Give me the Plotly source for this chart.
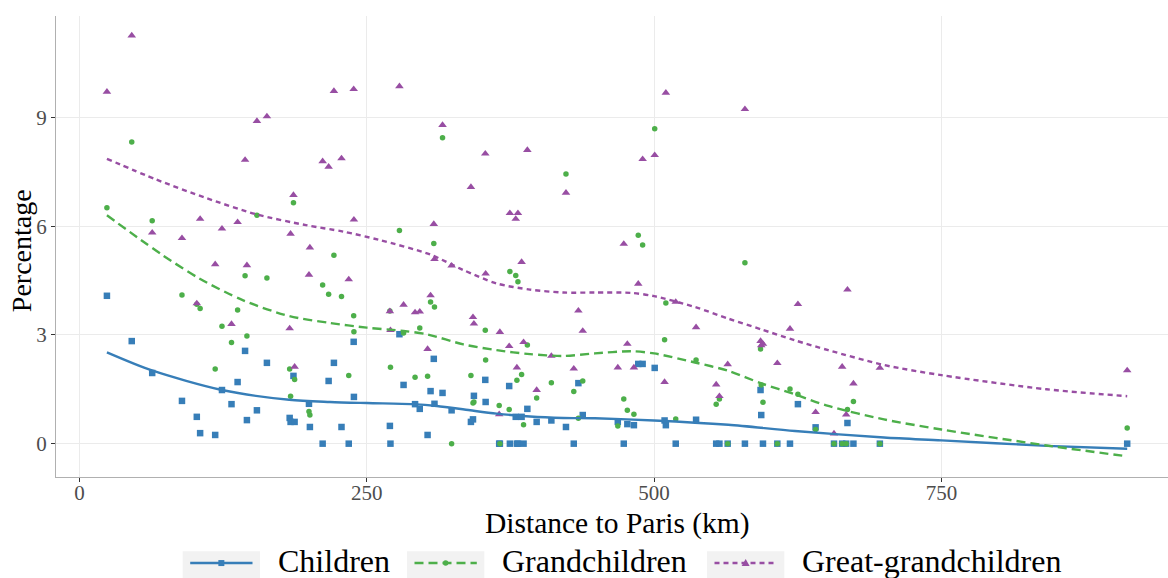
import plotly.graph_objects as go

# ---- data ----
distance = [23.9, 45.5, 63.3, 89.2, 102.1, 105.0, 118.1, 124.0, 132.3, 137.6,
            144.1, 145.7, 154.4, 163.1, 182.9, 183.7, 186.2, 187.2, 199.7, 200.5,
            211.6, 216.8, 221.4, 228.0, 234.3, 238.6, 238.8, 270.1, 270.6, 278.4,
            282.0, 292.0, 296.1, 302.9, 305.5, 308.3, 308.9, 315.9, 323.8, 340.6,
            342.4, 343.2, 353.1, 353.4, 365.2, 365.8, 373.9, 374.5, 379.6, 380.6,
            381.5, 384.7, 386.4, 389.7, 397.8, 410.6, 423.3, 430.1, 434.1, 437.9,
            468.4, 473.6, 476.7, 482.4, 486.2, 490.0, 500.5, 509.1, 510.2, 518.8,
            536.5, 554.0, 556.8, 564.0, 579.0, 592.6, 593.2, 594.7, 607.2, 618.2,
            625.1, 640.5, 656.5, 663.6, 667.1, 668.2, 673.4, 696.4, 911.6]
children = [4.08, 2.83, 1.95, 1.18, 0.74, 0.29, 0.24, 1.48, 1.09, 1.70,
            2.56, 0.65, 0.92, 2.23, 0.71, 0.60, 1.87, 0.60, 1.10, 0.46,
            0.00, 1.73, 2.23, 0.46, 0.00, 2.81, 1.29, 0.49, 0.00, 3.02,
            1.62, 1.09, 0.96, 0.24, 1.45, 2.34, 1.10, 1.40, 0.92, 0.60,
            0.67, 1.32, 1.76, 1.15, 0.00, 0.00, 1.59, 0.00, 0.74, 0.00,
            0.00, 0.74, 0.00, 0.96, 0.60, 0.64, 0.46, 0.00, 1.67, 0.79,
            0.60, 0.00, 0.54, 0.51, 2.20, 2.20, 2.09, 0.64, 0.51, 0.00,
            0.66, 0.00, 0.00, 0.00, 0.00, 1.48, 0.79, 0.00, 0.00, 0.00,
            1.09, 0.45, 0.00, 0.00, 0.00, 0.57, 0.00, 0.00, 0.00]
grandchildren = [6.51, 8.32, 6.15, 4.10, 3.85, 3.73, 2.06, 3.24, 2.79, 3.69,
                 4.63, 2.97, 6.30, 4.57, 2.06, 1.31, 6.65, 1.77, 0.89, 0.79,
                 4.38, 4.12, 5.20, 4.06, 1.88, 3.53, 3.09, 3.66, 2.11, 5.88,
                 3.05, 1.83, 3.19, 1.86, 3.91, 5.52, 3.77, 8.44, 0.00, 1.88,
                 1.12, 1.15, 3.13, 2.31, 1.05, 0.00, 0.94, 4.75, 4.64, 1.75,
                 4.47, 1.91, 0.52, 2.72, 1.26, 1.68, 7.44, 1.44, 0.70, 1.73,
                 0.49, 1.23, 0.92, 0.81, 5.75, 5.48, 8.69, 2.87, 3.88, 0.68,
                 2.31, 1.09, 1.23, 0.00, 4.99, 2.61, 1.62, 1.14, 0.00, 1.51,
                 1.36, 0.39, 0.00, 0.00, 0.00, 0.94, 1.16, 0.00, 0.43]
great_grandchildren = [9.71, 11.26, 5.82, 5.67, 3.87, 6.20, 4.95, 5.93, 3.30, 6.11,
                       7.83, 4.92, 8.90, 9.03, 3.18, 5.79, 6.86, 2.12, 4.66, 5.41,
                       7.79, 7.64, 9.73, 7.87, 4.53, 9.78, 6.18, 3.65, 3.13, 9.86,
                       3.83, 3.62, 3.64, 2.61, 4.09, 6.06, 5.09, 8.79, 4.91, 7.08,
                       3.49, 3.31, 8.00, 4.69, 0.81, 3.08, 2.69, 6.36, 6.20, 2.10,
                       6.36, 5.01, 2.80, 8.10, 1.48, 2.42, 6.92, 2.07, 3.67, 3.11,
                       2.10, 5.51, 2.75, 2.10, 4.41, 7.85, 7.96, 1.70, 9.68, 3.91,
                       3.21, 1.63, 1.31, 2.19, 9.23, 2.83, 2.71, 2.75, 2.22, 3.17,
                       3.85, 0.87, 0.28, 2.12, 0.80, 4.25, 1.66, 2.09, 2.02]

# smoothed (loess) curves
smooth_children_x = [23.9, 63.1, 124, 182.5, 218, 250, 290, 311, 340, 363, 392, 421,
                     448.5, 500, 564.5, 622.5, 700, 750, 841.5, 911.6]
smooth_children_y = [2.52, 2.02, 1.48, 1.21, 1.15, 1.12, 1.09, 1.04, 0.92, 0.83, 0.75, 0.71,
                     0.70, 0.64, 0.52, 0.35, 0.17, 0.09, -0.06, -0.14]
smooth_grand_x = [23.9, 53.5, 72.4, 104.2, 142, 182.5, 218, 250, 282, 302, 334, 363, 392,
                  421, 448.5, 480, 500, 535.5, 564.5, 593.5, 622.5, 651.5, 700, 750, 841.5, 911.6]
smooth_grand_y = [6.30, 5.62, 5.20, 4.56, 3.96, 3.52, 3.33, 3.20, 3.11, 3.02, 2.74, 2.58, 2.47,
                  2.42, 2.49, 2.55, 2.49, 2.24, 2.01, 1.66, 1.36, 1.04, 0.67, 0.39, -0.05, -0.35]
smooth_great_x = [23.9, 66.6, 110, 153.6, 197, 229.8, 261, 305, 334, 363, 392, 421, 448.5,
                  480, 500, 535.5, 564.5, 593.5, 622.5, 651.5, 700, 750, 841.5, 911.6]
smooth_great_y = [7.86, 7.29, 6.78, 6.33, 6.03, 5.85, 5.62, 5.22, 4.79, 4.42, 4.25, 4.17, 4.17,
                  4.16, 4.07, 3.77, 3.45, 3.15, 2.85, 2.58, 2.17, 1.89, 1.50, 1.31]

x_ticks = [0, 250, 500, 750]
y_ticks = [0, 3, 6, 9]

series_names = ["Children", "Grandchildren", "Great-grandchildren"]
series_values = [children, grandchildren, great_grandchildren]
smooth_x = [smooth_children_x, smooth_grand_x, smooth_great_x]
smooth_y = [smooth_children_y, smooth_grand_y, smooth_great_y]
colors = ["#377EB8", "#4DAF4A", "#984EA3"]
symbols = ["square", "circle", "triangle-up"]
sizes = [6.5, 5.5, 7.5]
dashes = ["solid", "9px,5px", "5px,4px"]

FONT = "Liberation Serif"
W, H = 1168, 578
ML, MR, MT, MB = 56, 0, 16, 101.3
PW, PH = W - ML - MR, H - MT - MB


def px(xp):
    return (xp - ML) / PW


def py(yp):
    return (H - MB - yp) / PH


fig = go.Figure()
for i in range(3):
    fig.add_trace(go.Scatter(x=distance, y=series_values[i], mode="markers", showlegend=False,
                             name=series_names[i],
                             marker=dict(color=colors[i], symbol=symbols[i], size=sizes[i])))
for i in range(3):
    fig.add_trace(go.Scatter(x=smooth_x[i], y=smooth_y[i], mode="lines", showlegend=False,
                             name=series_names[i],
                             line=dict(color=colors[i], width=2.4, dash=dashes[i],
                                       shape="spline", smoothing=0.8)))

# ---- manual legend (ggplot style keys with grey background) ----
key_left = [182.7, 407, 707]
text_left = [276, 500, 800]
key_w = 77.3
key_top, key_bot = 551, 580
line_y = 562.7
shapes = []
annotations = []
for i in range(3):
    k0 = key_left[i]
    shapes.append(dict(type="rect", xref="paper", yref="paper", x0=px(k0), x1=px(k0 + key_w),
                       y0=py(key_bot), y1=py(key_top), fillcolor="#f2f2f2",
                       line=dict(width=0), layer="above"))
    shapes.append(dict(type="line", xref="paper", yref="paper", x0=px(k0 + 7.5), x1=px(k0 + key_w - 7.5),
                       y0=py(line_y), y1=py(line_y),
                       line=dict(color=colors[i], width=2.4, dash=dashes[i]), layer="above"))
    cx, cy = px(k0 + key_w / 2), py(line_y)
    common = dict(xref="paper", yref="paper", xsizemode="pixel", ysizemode="pixel",
                  xanchor=cx, yanchor=cy, fillcolor=colors[i], line=dict(width=0), layer="above")
    if symbols[i] == "square":
        shapes.append(dict(type="rect", x0=-3, x1=3, y0=-3, y1=3, **common))
    elif symbols[i] == "circle":
        shapes.append(dict(type="circle", x0=-2.7, x1=2.7, y0=-2.7, y1=2.7, **common))
    else:
        shapes.append(dict(type="path", path="M -4,-3 L 4,-3 L 0,4 Z", **common))
    annotations.append(dict(text=series_names[i], xref="paper", yref="paper", x=px(text_left[i]),
                            y=py(560.5), xanchor="left", yanchor="middle", showarrow=False,
                            font=dict(size=32, family=FONT, color="#000000")))

# axis titles
annotations.append(dict(text="Distance to Paris (km)", xref="paper", yref="paper", x=px(617.5),
                        y=py(523), xanchor="center", yanchor="middle", showarrow=False,
                        font=dict(size=29.5, family=FONT, color="#000000")))
annotations.append(dict(text="Percentage", xref="paper", yref="paper", x=px(21.5),
                        y=py(250.5), xanchor="center", yanchor="middle", showarrow=False,
                        textangle=-90, font=dict(size=28, family=FONT, color="#000000")))

fig.update_layout(
    width=W, height=H,
    margin=dict(l=ML, r=MR, t=MT, b=MB, autoexpand=False),
    plot_bgcolor="white", paper_bgcolor="white",
    font=dict(family=FONT, color="#000000"),
    showlegend=False,
    shapes=shapes, annotations=annotations,
)
fig.update_xaxes(range=[-20.4, 947.1], tickvals=x_ticks, ticktext=[str(v) for v in x_ticks],
                 showgrid=True, gridcolor="#ebebeb", gridwidth=1, zeroline=False,
                 showline=True, linecolor="#b0b0b0", linewidth=1.2, automargin=False,
                 ticks="outside", ticklen=4, tickcolor="#333333", ticklabelstandoff=-7,
                 tickfont=dict(size=21, color="#4d4d4d", family=FONT))
fig.update_yaxes(range=[-0.92, 11.80], tickvals=y_ticks, ticktext=[str(v) for v in y_ticks],
                 showgrid=True, gridcolor="#ebebeb", gridwidth=1, zeroline=False,
                 showline=True, linecolor="#b0b0b0", linewidth=1.2, automargin=False,
                 ticks="outside", ticklen=4, tickcolor="#333333",
                 tickfont=dict(size=21, color="#4d4d4d", family=FONT))

fig.write_html("out.html", config={"displayModeBar": False},
               post_script="document.body.style.margin='0px';document.body.style.overflow='hidden';")
